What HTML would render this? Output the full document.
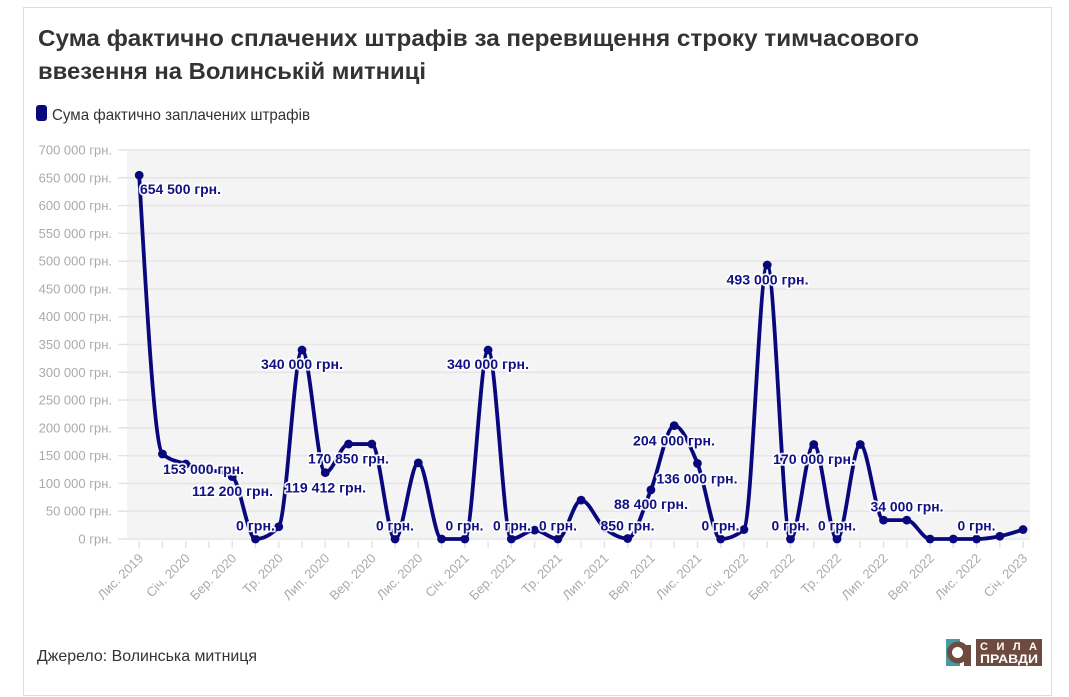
<!DOCTYPE html>
<html><head><meta charset="utf-8">
<style>
html,body{margin:0;padding:0;background:#fff;}
svg{display:block;font-family:"Liberation Sans","DejaVu Sans",sans-serif;}
.yl{font-size:13px;fill:#aaaaaa;text-anchor:end;}
.xl{font-size:13px;fill:#aaaaaa;text-anchor:end;}
.pl{font-size:14px;font-weight:bold;fill:#111184;stroke:#fff;stroke-width:3.5px;stroke-opacity:0.9;paint-order:stroke;stroke-linejoin:round;text-anchor:middle;}
</style></head><body>
<svg id="c" width="1069" height="697" viewBox="0 0 1069 697" xmlns="http://www.w3.org/2000/svg">
<rect x="23.5" y="7.5" width="1028" height="688" fill="#fff" stroke="#dcdcdc" stroke-width="1"/>
<text x="38" y="46" font-size="23" font-weight="bold" fill="#333" textLength="881" lengthAdjust="spacingAndGlyphs">Сума фактично сплачених штрафів за перевищення строку тимчасового</text>
<text x="38" y="79" font-size="23" font-weight="bold" fill="#333" textLength="388" lengthAdjust="spacingAndGlyphs">ввезення на Волинській митниці</text>

<rect x="36" y="105" width="11" height="16" rx="3" fill="#08087c"/>
<text x="52" y="120" font-size="16" fill="#333" textLength="258" lengthAdjust="spacingAndGlyphs">Сума фактично заплачених штрафів</text>

<rect x="127" y="149" width="903" height="391" fill="#f4f4f4"/>
<g id="grid"></g>

<g>
<text class="yl" x="112" y="154.5">700 000 грн.</text>
<text class="yl" x="112" y="182.3">650 000 грн.</text>
<text class="yl" x="112" y="210.1">600 000 грн.</text>
<text class="yl" x="112" y="237.9">550 000 грн.</text>
<text class="yl" x="112" y="265.6">500 000 грн.</text>
<text class="yl" x="112" y="293.4">450 000 грн.</text>
<text class="yl" x="112" y="321.2">400 000 грн.</text>
<text class="yl" x="112" y="349.0">350 000 грн.</text>
<text class="yl" x="112" y="376.8">300 000 грн.</text>
<text class="yl" x="112" y="404.6">250 000 грн.</text>
<text class="yl" x="112" y="432.4">200 000 грн.</text>
<text class="yl" x="112" y="460.1">150 000 грн.</text>
<text class="yl" x="112" y="487.9">100 000 грн.</text>
<text class="yl" x="112" y="515.7">50 000 грн.</text>
<text class="yl" x="112" y="543.5">0 грн.</text>
</g>

<g>
<text class="xl" transform="translate(144.2,559) rotate(-45)">Лис. 2019</text>
<text class="xl" transform="translate(190.7,559) rotate(-45)">Січ. 2020</text>
<text class="xl" transform="translate(237.2,559) rotate(-45)">Бер. 2020</text>
<text class="xl" transform="translate(283.8,559) rotate(-45)">Тр. 2020</text>
<text class="xl" transform="translate(330.3,559) rotate(-45)">Лип. 2020</text>
<text class="xl" transform="translate(376.8,559) rotate(-45)">Вер. 2020</text>
<text class="xl" transform="translate(423.3,559) rotate(-45)">Лис. 2020</text>
<text class="xl" transform="translate(469.8,559) rotate(-45)">Січ. 2021</text>
<text class="xl" transform="translate(516.4,559) rotate(-45)">Бер. 2021</text>
<text class="xl" transform="translate(562.9,559) rotate(-45)">Тр. 2021</text>
<text class="xl" transform="translate(609.4,559) rotate(-45)">Лип. 2021</text>
<text class="xl" transform="translate(655.9,559) rotate(-45)">Вер. 2021</text>
<text class="xl" transform="translate(702.4,559) rotate(-45)">Лис. 2021</text>
<text class="xl" transform="translate(749.0,559) rotate(-45)">Січ. 2022</text>
<text class="xl" transform="translate(795.5,559) rotate(-45)">Бер. 2022</text>
<text class="xl" transform="translate(842.0,559) rotate(-45)">Тр. 2022</text>
<text class="xl" transform="translate(888.5,559) rotate(-45)">Лип. 2022</text>
<text class="xl" transform="translate(935.0,559) rotate(-45)">Вер. 2022</text>
<text class="xl" transform="translate(981.6,559) rotate(-45)">Лис. 2022</text>
<text class="xl" transform="translate(1028.1,559) rotate(-45)">Січ. 2023</text>
</g>

<g id="series"></g>

<g>
<text class="pl" x="180.5" y="194" textLength="81" lengthAdjust="spacingAndGlyphs">654 500 грн.</text>
<text class="pl" x="203.5" y="474" textLength="81" lengthAdjust="spacingAndGlyphs">153 000 грн.</text>
<text class="pl" x="232.5" y="496" textLength="81" lengthAdjust="spacingAndGlyphs">112 200 грн.</text>
<text class="pl" x="255.5" y="530.5" textLength="39" lengthAdjust="spacingAndGlyphs">0 грн.</text>
<text class="pl" x="302" y="369" textLength="82" lengthAdjust="spacingAndGlyphs">340 000 грн.</text>
<text class="pl" x="325.5" y="492.5" textLength="81" lengthAdjust="spacingAndGlyphs">119 412 грн.</text>
<text class="pl" x="348.5" y="463.5" textLength="81" lengthAdjust="spacingAndGlyphs">170 850 грн.</text>
<text class="pl" x="395" y="530.5" textLength="38" lengthAdjust="spacingAndGlyphs">0 грн.</text>
<text class="pl" x="464.5" y="530.5" textLength="38" lengthAdjust="spacingAndGlyphs">0 грн.</text>
<text class="pl" x="488" y="369" textLength="82" lengthAdjust="spacingAndGlyphs">340 000 грн.</text>
<text class="pl" x="512" y="530.5" textLength="38" lengthAdjust="spacingAndGlyphs">0 грн.</text>
<text class="pl" x="558" y="530.5" textLength="38" lengthAdjust="spacingAndGlyphs">0 грн.</text>
<text class="pl" x="627.5" y="530.5" textLength="54" lengthAdjust="spacingAndGlyphs">850 грн.</text>
<text class="pl" x="651" y="509" textLength="74" lengthAdjust="spacingAndGlyphs">88 400 грн.</text>
<text class="pl" x="674" y="445.5" textLength="82" lengthAdjust="spacingAndGlyphs">204 000 грн.</text>
<text class="pl" x="697" y="483.5" textLength="81" lengthAdjust="spacingAndGlyphs">136 000 грн.</text>
<text class="pl" x="720.5" y="530.5" textLength="38" lengthAdjust="spacingAndGlyphs">0 грн.</text>
<text class="pl" x="767.5" y="284.5" textLength="82" lengthAdjust="spacingAndGlyphs">493 000 грн.</text>
<text class="pl" x="814" y="464" textLength="82" lengthAdjust="spacingAndGlyphs">170 000 грн.</text>
<text class="pl" x="790.5" y="530.5" textLength="38" lengthAdjust="spacingAndGlyphs">0 грн.</text>
<text class="pl" x="837" y="530.5" textLength="38" lengthAdjust="spacingAndGlyphs">0 грн.</text>
<text class="pl" x="907" y="511.5" textLength="73" lengthAdjust="spacingAndGlyphs">34 000 грн.</text>
<text class="pl" x="976.5" y="530.5" textLength="38" lengthAdjust="spacingAndGlyphs">0 грн.</text>
</g>

<text x="37" y="661" font-size="16" fill="#333" textLength="220" lengthAdjust="spacingAndGlyphs">Джерело: Волинська митниця</text>

<g>
<rect x="946" y="639" width="14" height="27" fill="#4a98a3"/>
<circle cx="958" cy="652.5" r="11" fill="#6e4b40"/>
<rect x="964" y="645" width="7" height="21" fill="#6e4b40"/>
<circle cx="957.5" cy="652.5" r="5.5" fill="#fff"/>
<rect x="976" y="639" width="66" height="27" fill="#6e4b40"/>
<text x="980" y="650" font-size="11" font-weight="bold" fill="#fff" textLength="57" lengthAdjust="spacing">С И Л А</text>
<text x="980" y="663" font-size="12" font-weight="bold" fill="#fff" textLength="58" lengthAdjust="spacingAndGlyphs">ПРАВДИ</text>
</g>
</svg>
<script>
(function(){
var NS="http://www.w3.org/2000/svg";
function el(n,a,p){var e=document.createElementNS(NS,n);for(var k in a)e.setAttribute(k,a[k]);p.appendChild(e);return e;}
var grid=document.getElementById("grid");
for(var k=0;k<=14;k++){
  var y=539-k*389/14;
  el("line",{x1:127,x2:1030,y1:y,y2:y,stroke:"#e6e6e6","stroke-width":1.6},grid);
  el("line",{x1:118,x2:127,y1:y,y2:y,stroke:"#e2e2e2","stroke-width":1.4},grid);
}
var x0=139.2,step=23.26;
for(var i=0;i<39;i++){
  var x=x0+step*i;
  el("line",{x1:x,x2:x,y1:541,y2:548,stroke:"#e2e2e2","stroke-width":1.4},grid);
}
var vals=[654500,153000,135000,125000,112200,0,22000,340000,119412,170850,170850,0,137000,0,0,340000,0,16000,0,70000,20000,850,88400,204000,136000,0,17000,493000,0,170000,0,170000,34000,34000,0,0,0,5000,17000];
var px=[],py=[];
for(var i=0;i<vals.length;i++){px.push(x0+step*i);py.push(539-vals[i]*389/700000);}
function sg(v){return v<0?-1:1;}
var n=px.length,t=[],s=[],h=[];
for(var i=0;i<n-1;i++){h[i]=px[i+1]-px[i];s[i]=(py[i+1]-py[i])/h[i];}
for(var i=1;i<n-1;i++){
  var p=(s[i-1]*h[i]+s[i]*h[i-1])/(h[i-1]+h[i]);
  t[i]=(sg(s[i-1])+sg(s[i]))*Math.min(Math.abs(s[i-1]),Math.abs(s[i]),0.5*Math.abs(p))||0;
}
t[0]=(3*s[0]-t[1])/2;
t[n-1]=(3*s[n-2]-t[n-2])/2;
var d="M"+px[0]+","+py[0];
for(var i=0;i<n-1;i++){
  var dx=h[i]/3;
  d+="C"+(px[i]+dx)+","+(py[i]+dx*t[i])+","+(px[i+1]-dx)+","+(py[i+1]-dx*t[i+1])+","+px[i+1]+","+py[i+1];
}
var g=document.getElementById("series");
el("path",{d:d,fill:"none",stroke:"#08087c","stroke-width":3.8,"stroke-linejoin":"round","stroke-linecap":"round"},g);
for(var i=0;i<n;i++){el("circle",{cx:px[i],cy:py[i],r:4.4,fill:"#08087c"},g);}
})();
</script>
</body></html>
